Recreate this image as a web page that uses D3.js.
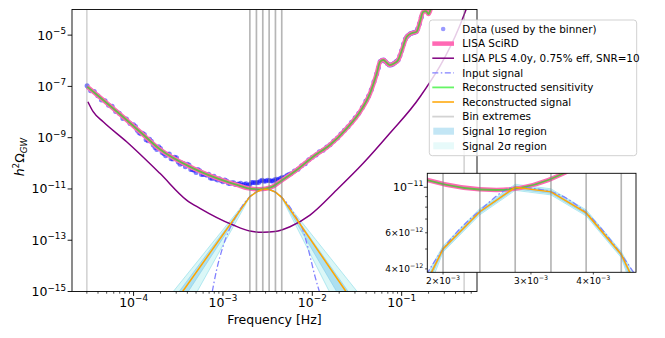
<!DOCTYPE html>
<html lang="en">
<head>
<meta charset="utf-8">
<title>GW binned reconstruction</title>
<script src="https://cdn.jsdelivr.net/npm/d3@7/dist/d3.min.js"></script>
<style>
  body { margin: 0; background: #fff; }
  text { font-family: "DejaVu Sans", sans-serif; fill: #000; }
</style>
</head>
<body>
<svg id="chart" width="665" height="338"></svg>
<script>
// ---- values ----
// LISA SciRD sensitivity [f (Hz), h^2 Omega]
const sciRD = [
  [3.03e-5, 9.7e-8], [8.36e-5, 4.89e-9], [1.18e-4, 1.71e-9], [1.97e-4, 3.52e-10],
  [4.65e-4, 6.38e-11], [9.26e-4, 2.38e-11], [1.5e-3, 1.38e-11], [1.86e-3, 1.085e-11],
  [2.56e-3, 9.7e-12], [3.49e-3, 1.17e-11], [4.35e-3, 1.93e-11], [6.68e-3, 5.48e-11],
  [1.02e-2, 1.81e-10], [1.57e-2, 5.18e-10], [2.43e-2, 2.32e-9], [3.42e-2, 1.03e-8],
  [4.43e-2, 5.37e-8], [5.27e-2, 3.24e-7], [5.74e-2, 9.18e-7], [6.24e-2, 1.07e-6],
  [6.85e-2, 8.17e-7], [7.37e-2, 6.82e-7], [8.2e-2, 7.8e-7], [9.14e-2, 1.07e-6],
  [1.007e-1, 2.62e-6], [1.14e-1, 8.67e-6], [1.29e-1, 1.18e-5], [1.47e-1, 1.36e-5],
  [1.6e-1, 3.24e-5], [1.73e-1, 7.96e-5], [1.87e-1, 8.7e-5], [2.0e-1, 6.65e-5],
  [2.13e-1, 1.14e-4], [2.3e-1, 2.34e-4]
];
// reconstructed sensitivity sits on top of the SciRD curve
const reconSens = sciRD;

// power-law sensitivity, 4 yr, 0.75% eff, SNR=10
const pls = [
  [3.08e-5, 2.53e-8], [3.53e-5, 1.03e-8], [4.57e-5, 4.19e-9], [8.36e-5, 6.95e-10],
  [1.97e-4, 4.07e-11], [3.92e-4, 3.7e-12], [5.53e-4, 1.76e-12], [1.30e-3, 3.92e-13],
  [2.0e-3, 2.29e-13], [2.83e-3, 2.04e-13], [3.82e-3, 2.19e-13], [5.63e-3, 3.37e-13],
  [9.42e-3, 9.6e-13], [1.87e-2, 9.1e-12], [3.71e-2, 1.0e-10], [7.37e-2, 1.48e-9],
  [1.6e-1, 3.85e-8], [4.5e-1, 2.48e-5], [5.26e-1, 9.96e-5]
];

// injected signal
const inputSignal = [
  [7.6e-4, 1e-15], [8.5e-4, 7e-15], [1.0e-3, 5.6e-14], [1.36e-3, 7.2e-13],
  [1.65e-3, 2.2e-12], [2.0e-3, 5.0e-12], [2.37e-3, 7.7e-12], [2.79e-3, 1.0e-11],
  [3.29e-3, 9.5e-12], [3.87e-3, 7.5e-12], [4.55e-3, 4.7e-12], [5.5e-3, 2.2e-12],
  [6.6e-3, 7.8e-13], [7.6e-3, 3.4e-13], [8.5e-3, 1.0e-13], [9.4e-3, 2.5e-14],
  [1.07e-2, 4e-15], [1.2e-2, 1e-15]
];

// reconstructed signal (bin nodes + power-law tails)
const reconSignal = [
  [3.54e-4, 1e-15], [2.0e-3, 5.0e-12], [2.37e-3, 7.6e-12], [2.79e-3, 1.0e-11],
  [3.29e-3, 9.5e-12], [3.87e-3, 7.5e-12], [4.55e-3, 4.7e-12], [2.38e-2, 1e-15]
];

// 1 sigma and 2 sigma envelopes
const sigma1Upper = [
  [3.24e-4, 1e-15], [2.0e-3, 5.09e-12], [2.37e-3, 7.74e-12], [2.79e-3, 1.018e-11],
  [3.29e-3, 9.67e-12], [3.87e-3, 7.64e-12], [4.55e-3, 4.78e-12], [2.52e-2, 1e-15]
];
const sigma1Lower = [
  [4.09e-4, 1e-15], [2.0e-3, 4.91e-12], [2.37e-3, 7.47e-12], [2.79e-3, 9.82e-12],
  [3.29e-3, 9.33e-12], [3.87e-3, 7.37e-12], [4.55e-3, 4.62e-12], [1.87e-2, 1e-15]
];
const sigma2Upper = [
  [2.78e-4, 1e-15], [2.0e-3, 5.18e-12], [2.37e-3, 7.87e-12], [2.79e-3, 1.035e-11],
  [3.29e-3, 9.83e-12], [3.87e-3, 7.76e-12], [4.55e-3, 4.86e-12], [3.18e-2, 1e-15]
];
const sigma2Lower = [
  [5.15e-4, 1e-15], [2.0e-3, 4.83e-12], [2.37e-3, 7.34e-12], [2.79e-3, 9.66e-12],
  [3.29e-3, 9.18e-12], [3.87e-3, 7.25e-12], [4.55e-3, 4.54e-12], [1.55e-2, 1e-15]
];

// bins [f_min, f_max]
const bins = [
  [3.0e-5, 2.0e-3], [2.0e-3, 2.37e-3], [2.37e-3, 2.79e-3], [2.79e-3, 3.29e-3],
  [3.29e-3, 3.87e-3], [3.87e-3, 4.55e-3], [4.55e-3, 0.5]
];

// data used by the binner
const dataFreq = [
  3.02e-5, 3.31e-5, 3.63e-5, 3.98e-5, 4.37e-5, 4.79e-5, 5.25e-5, 5.75e-5, 6.31e-5, 6.92e-5,
  7.59e-5, 8.32e-5, 9.12e-5, 1.0e-4, 1.10e-4, 1.20e-4, 1.32e-4, 1.45e-4, 1.58e-4, 1.74e-4,
  1.91e-4, 2.09e-4, 2.29e-4, 2.51e-4, 2.75e-4, 3.02e-4, 3.31e-4, 3.63e-4, 3.98e-4, 4.37e-4,
  4.79e-4, 5.25e-4, 5.75e-4, 6.31e-4, 6.92e-4, 7.59e-4, 8.32e-4, 9.12e-4, 1.0e-3, 1.10e-3,
  1.20e-3, 1.32e-3, 1.45e-3, 1.58e-3, 1.74e-3, 1.91e-3, 2.09e-3, 2.29e-3, 2.51e-3, 2.75e-3,
  3.02e-3, 3.31e-3, 3.63e-3, 3.98e-3, 4.37e-3, 4.79e-3, 5.25e-3, 5.75e-3, 6.31e-3, 6.92e-3,
  7.59e-3, 8.32e-3, 9.12e-3, 1.0e-2, 1.10e-2, 1.20e-2, 1.32e-2, 1.45e-2, 1.58e-2, 1.74e-2,
  1.91e-2, 2.09e-2, 2.29e-2, 2.51e-2, 2.75e-2, 3.02e-2, 3.31e-2, 3.63e-2, 3.98e-2, 4.27e-2,
  4.57e-2, 4.9e-2, 5.25e-2, 5.5e-2, 5.75e-2, 6.03e-2, 6.31e-2, 6.61e-2, 6.92e-2, 7.24e-2,
  7.59e-2, 7.94e-2, 8.32e-2, 8.71e-2, 9.12e-2, 9.55e-2, 0.1, 0.105, 0.11, 0.115,
  0.12, 0.126, 0.132, 0.138, 0.145, 0.151, 0.158, 0.166,
  1.05e-4, 1.15e-4, 1.26e-4, 1.38e-4, 1.51e-4, 1.66e-4, 1.82e-4, 2.0e-4, 2.19e-4, 2.4e-4,
  2.63e-4, 2.88e-4, 3.16e-4, 3.47e-4, 3.8e-4, 4.17e-4, 4.57e-4, 5.01e-4, 5.5e-4, 6.03e-4,
  6.61e-4, 7.24e-4, 7.94e-4, 8.71e-4, 9.55e-4, 1.05e-3, 1.15e-3, 1.26e-3, 1.38e-3, 1.51e-3,
  1.66e-3, 1.82e-3, 2.0e-3, 2.19e-3, 2.4e-3, 2.63e-3, 2.88e-3, 3.16e-3, 3.47e-3, 3.8e-3,
  4.17e-3, 4.57e-3, 5.01e-3, 5.5e-3
];
const dataOmega = [
  1.05e-7, 6.81e-8, 6.38e-8, 4.34e-8, 2.94e-8, 2.77e-8, 1.84e-8, 1.68e-8, 1.04e-8, 8.91e-9,
  5.65e-9, 5.31e-9, 3.57e-9, 3.17e-9, 1.95e-9, 1.41e-9, 1.33e-9, 7.62e-10, 7.21e-10, 4.12e-10,
  4.39e-10, 2.67e-10, 1.98e-10, 2.33e-10, 1.47e-10, 1.65e-10, 9.29e-11, 9.73e-11, 9.10e-11, 5.74e-11,
  5.32e-11, 5.74e-11, 3.65e-11, 3.75e-11, 3.78e-11, 2.57e-11, 2.47e-11, 2.49e-11, 1.90e-11, 2.06e-11,
  1.64e-11, 1.76e-11, 1.51e-11, 1.67e-11, 1.54e-11, 1.39e-11, 1.77e-11, 1.75e-11, 1.78e-11, 2.17e-11,
  2.04e-11, 2.16e-11, 2.03e-11, 2.39e-11, 2.57e-11, 2.70e-11, 3.46e-11, 3.89e-11, 5.00e-11, 5.90e-11,
  8.02e-11, 9.70e-11, 1.38e-10, 1.71e-10, 2.10e-10, 2.82e-10, 3.22e-10, 4.33e-10, 5.35e-10, 7.50e-10,
  9.82e-10, 1.38e-9, 1.93e-9, 2.67e-9, 4.00e-9, 5.98e-9, 8.95e-9, 1.51e-8, 2.72e-8, 4.24e-8,
  7.48e-8, 1.52e-7, 3.09e-7, 5.37e-7, 9.33e-7, 1.05e-6, 1.06e-6, 9.1e-7, 7.9e-7, 6.9e-7,
  6.9e-7, 7.4e-7, 8.1e-7, 9.3e-7, 1.07e-6, 1.58e-6, 2.5e-6, 4.5e-6, 7.1e-6, 8.9e-6,
  1.02e-5, 1.15e-5, 1.2e-5, 1.26e-5, 1.35e-5, 1.78e-5, 2.8e-5, 5e-5,
  2.75e-9, 1.58e-9, 1.50e-9, 8.38e-10, 8.71e-10, 5.21e-10, 3.49e-10, 3.75e-10, 2.38e-10, 2.28e-10,
  1.50e-10, 1.73e-10, 1.12e-10, 1.04e-10, 7.41e-11, 8.51e-11, 5.62e-11, 4.34e-11, 5.13e-11, 3.66e-11,
  3.44e-11, 2.69e-11, 3.10e-11, 2.26e-11, 2.14e-11, 2.22e-11, 1.66e-11, 1.76e-11, 1.48e-11, 1.57e-11,
  1.41e-11, 1.58e-11, 1.50e-11, 1.78e-11, 1.77e-11, 2.03e-11, 1.99e-11, 2.20e-11, 2.04e-11, 2.30e-11,
  2.29e-11, 2.82e-11, 2.99e-11, 3.70e-11
];

// axis ticks
const xMajor = [1e-4, 1e-3, 1e-2, 1e-1];
const xMajorExp = ["−4", "−3", "−2", "−1"];
const yMajor = [1e-15, 1e-13, 1e-11, 1e-9, 1e-7, 1e-5];
const yMajorExp = ["−15", "−13", "−11", "−9", "−7", "−5"];
const insetXTicks = [2e-3, 3e-3, 4e-3];
const insetXLabels = ["2", "3", "4"];
const insetYTicks = [4e-12, 6e-12, 1e-11];
const insetYLabels = [["4×10", "−12"], ["6×10", "−12"], ["10", "−11"]];
const insetYMinor = [5e-12, 7e-12, 8e-12, 9e-12];

const legendLabels = [
  "Data (used by the binner)", "LISA SciRD", "LISA PLS 4.0y, 0.75% eff, SNR=10",
  "Input signal", "Reconstructed sensitivity", "Reconstructed signal", "Bin extremes",
  "Signal 1σ region", "Signal 2σ region"
];

// ---- drawing ----
const svg = d3.select("#chart");
const M = { left: 72, right: 477, top: 9.5, bottom: 291.5 };
const x = d3.scaleLog().domain([Math.pow(10, -4.689), Math.pow(10, -0.157)]).range([M.left, M.right]);
const y = d3.scaleLog().domain([1e-15, 1e-4]).range([M.bottom, M.top]);

const I = { left: 427.3, right: 636, top: 173.3, bottom: 272.3 };
const xi = d3.scaleLog().domain([1.86e-3, 4.87e-3]).range([I.left, I.right]);
const yi = d3.scaleLog().domain([3.85e-12, 1.17e-11]).range([I.bottom, I.top]);

const defs = svg.append("defs");
defs.append("clipPath").attr("id", "clipMain").append("rect")
  .attr("x", M.left).attr("y", M.top).attr("width", M.right - M.left).attr("height", M.bottom - M.top);
defs.append("clipPath").attr("id", "clipInset").append("rect")
  .attr("x", I.left).attr("y", I.top).attr("width", I.right - I.left).attr("height", I.bottom - I.top);

const COL = {
  data: "#0000ff", sci: "#ff69b4", pls: "#800080", input: "#8080ff",
  sens: "#00ee00", sig: "#ffa500", bin: "#808080", s1: "#87ceeb", s2: "#afeeee"
};

function drawPanel(g, sx, sy, withData, dotR) {
  const line = d3.line().x(d => sx(d[0])).y(d => sy(d[1]));
  const smooth = d3.line().x(d => sx(d[0])).y(d => sy(d[1])).curve(d3.curveMonotoneX);

  if (withData) {
    g.append("g").selectAll("circle").data(dataFreq).join("circle")
      .attr("cx", d => sx(d))
      .attr("cy", (d, i) => sy(dataOmega[i]))
      .attr("r", dotR)
      .attr("fill", COL.data).attr("fill-opacity", 0.5);
  }
  // bands
  const band = (up, lo) => line(up.concat(lo.slice().reverse())) + "Z";
  g.append("path").attr("d", band(sigma2Upper, sigma2Lower))
    .attr("fill", COL.s2).attr("fill-opacity", 0.45)
    .attr("stroke", "#7fd8e6").attr("stroke-opacity", 0.6).attr("stroke-width", 0.9);
  g.append("path").attr("d", band(sigma1Upper, sigma1Lower))
    .attr("fill", COL.s1).attr("fill-opacity", 0.55)
    .attr("stroke", COL.s1).attr("stroke-opacity", 0.7).attr("stroke-width", 0.9);

  g.append("path").attr("d", smooth(sciRD)).attr("fill", "none")
    .attr("stroke", COL.sci).attr("stroke-width", 4.5).attr("stroke-linejoin", "round");
  g.append("path").attr("d", smooth(pls)).attr("fill", "none")
    .attr("stroke", COL.pls).attr("stroke-width", 1.5);
  g.append("path").attr("d", smooth(inputSignal)).attr("fill", "none")
    .attr("stroke", COL.input).attr("stroke-width", 1.3).attr("stroke-dasharray", "6,2.5,1.5,2.5");
  g.append("path").attr("d", smooth(reconSens)).attr("fill", "none")
    .attr("stroke", COL.sens).attr("stroke-opacity", 0.6).attr("stroke-width", 1.8);
  g.append("path").attr("d", line(reconSignal)).attr("fill", "none")
    .attr("stroke", COL.sig).attr("stroke-width", 1.5);

  const [y0, y1] = sy.range();
  bins.forEach(b => {
    b.forEach(f => {
      g.append("line").attr("x1", sx(f)).attr("x2", sx(f)).attr("y1", y0).attr("y2", y1)
        .attr("stroke", COL.bin).attr("stroke-opacity", 0.35).attr("stroke-width", 1.6);
    });
  });
}

// main panel
const main = svg.append("g").attr("clip-path", "url(#clipMain)");
drawPanel(main, x, y, true, 2.5);

svg.append("rect").attr("x", M.left).attr("y", M.top)
  .attr("width", M.right - M.left).attr("height", M.bottom - M.top)
  .attr("fill", "none").attr("stroke", "#000").attr("stroke-width", 0.9);

// x ticks
const xAx = svg.append("g");
for (let d = -5; d <= 0; d++) {
  for (let m = 2; m <= 9; m++) {
    const f = m * Math.pow(10, d);
    if (f < x.domain()[0] || f > x.domain()[1]) continue;
    xAx.append("line").attr("x1", x(f)).attr("x2", x(f)).attr("y1", M.bottom).attr("y2", M.bottom + 2.2)
      .attr("stroke", "#000").attr("stroke-width", 0.7);
  }
}
xMajor.forEach((f, i) => {
  xAx.append("line").attr("x1", x(f)).attr("x2", x(f)).attr("y1", M.bottom).attr("y2", M.bottom + 4.4)
    .attr("stroke", "#000").attr("stroke-width", 0.9);
  const t = xAx.append("text").attr("x", x(f)).attr("y", 306.5).attr("text-anchor", "middle")
    .attr("font-size", 12.5);
  t.append("tspan").text("10");
  t.append("tspan").attr("dy", -5.5).attr("font-size", 8.8).text(xMajorExp[i]);
});
svg.append("text").attr("x", (M.left + M.right) / 2).attr("y", 323.5).attr("text-anchor", "middle")
  .attr("font-size", 12.5).text("Frequency [Hz]");

// y ticks
yMajor.forEach((v, i) => {
  svg.append("line").attr("x1", M.left - 4.4).attr("x2", M.left).attr("y1", y(v)).attr("y2", y(v))
    .attr("stroke", "#000").attr("stroke-width", 0.9);
  const t = svg.append("text").attr("x", 66).attr("y", y(v) + 4.5).attr("text-anchor", "end")
    .attr("font-size", 12.5);
  t.append("tspan").text("10");
  t.append("tspan").attr("dy", -5.5).attr("font-size", 8.8).text(yMajorExp[i]);
});
const yl = svg.append("text").attr("transform", "translate(24,157) rotate(-90)")
  .attr("text-anchor", "middle").attr("font-size", 12.5);
yl.append("tspan").attr("font-style", "italic").text("h");
yl.append("tspan").attr("dy", -5).attr("font-size", 8.8).text("2");
yl.append("tspan").attr("dy", 5).text("Ω");
yl.append("tspan").attr("dy", 2.5).attr("font-size", 8.8).attr("font-style", "italic").text("GW");

// legend
const lg = svg.append("g");
lg.append("rect").attr("x", 429.3).attr("y", 20).attr("width", 207.4).attr("height", 135.7)
  .attr("rx", 3).attr("fill", "#fff").attr("fill-opacity", 0.8)
  .attr("stroke", "#cccccc").attr("stroke-width", 0.9);
const rowY = i => 29 + i * 14.6;
const hx0 = 432.3, hx1 = 454;
legendLabels.forEach((lab, i) => {
  const yy = rowY(i);
  if (i === 0) {
    lg.append("circle").attr("cx", (hx0 + hx1) / 2).attr("cy", yy).attr("r", 2.3)
      .attr("fill", COL.data).attr("fill-opacity", 0.4);
  } else if (i === 7 || i === 8) {
    lg.append("rect").attr("x", hx0 + 1).attr("y", yy - 3.5).attr("width", hx1 - hx0 - 1).attr("height", 7)
      .attr("fill", i === 7 ? COL.s1 : COL.s2).attr("fill-opacity", i === 7 ? 0.5 : 0.3);
  } else {
    const st = [null,
      { c: COL.sci, w: 4.5, o: 1 }, { c: COL.pls, w: 1.5, o: 1 },
      { c: COL.input, w: 1.3, o: 1, dash: "6,2.5,1.5,2.5" }, { c: COL.sens, w: 1.8, o: 0.6 },
      { c: COL.sig, w: 1.5, o: 1 }, { c: COL.bin, w: 1.8, o: 0.35 }][i];
    const l = lg.append("line").attr("x1", hx0).attr("x2", hx1).attr("y1", yy).attr("y2", yy)
      .attr("stroke", st.c).attr("stroke-width", st.w).attr("stroke-opacity", st.o);
    if (st.dash) l.attr("stroke-dasharray", st.dash);
  }
  lg.append("text").attr("x", 462.3).attr("y", yy + 3.7).attr("font-size", 10.4).text(lab);
});

// inset
svg.append("rect").attr("x", I.left).attr("y", I.top)
  .attr("width", I.right - I.left).attr("height", I.bottom - I.top).attr("fill", "#fff");
const inset = svg.append("g").attr("clip-path", "url(#clipInset)");
drawPanel(inset, xi, yi, true, 3);
svg.append("rect").attr("x", I.left).attr("y", I.top)
  .attr("width", I.right - I.left).attr("height", I.bottom - I.top)
  .attr("fill", "none").attr("stroke", "#000").attr("stroke-width", 0.9);

insetXTicks.forEach((f, i) => {
  svg.append("line").attr("x1", xi(f)).attr("x2", xi(f)).attr("y1", I.bottom).attr("y2", I.bottom + 2.2)
    .attr("stroke", "#000").attr("stroke-width", 0.7);
  const t = svg.append("text").attr("x", xi(f)).attr("y", 283.5).attr("text-anchor", "middle")
    .attr("font-size", 9);
  t.append("tspan").text(insetXLabels[i] + "×10");
  t.append("tspan").attr("dy", -4).attr("font-size", 6.3).text("−3");
});
insetYTicks.forEach((v, i) => {
  svg.append("line").attr("x1", I.left - (i === 2 ? 3.5 : 2.2)).attr("x2", I.left).attr("y1", yi(v)).attr("y2", yi(v))
    .attr("stroke", "#000").attr("stroke-width", 0.7);
  const t = svg.append("text").attr("x", I.left - 4).attr("y", yi(v) + 3.5).attr("text-anchor", "end")
    .attr("font-size", i === 2 ? 11 : 9);
  t.append("tspan").text(insetYLabels[i][0]);
  t.append("tspan").attr("dy", -4.5).attr("font-size", i === 2 ? 7.7 : 6.3).text(insetYLabels[i][1]);
});
insetYMinor.forEach(v => {
  svg.append("line").attr("x1", I.left - 2.2).attr("x2", I.left).attr("y1", yi(v)).attr("y2", yi(v))
    .attr("stroke", "#000").attr("stroke-width", 0.7);
});
</script>
</body>
</html>
